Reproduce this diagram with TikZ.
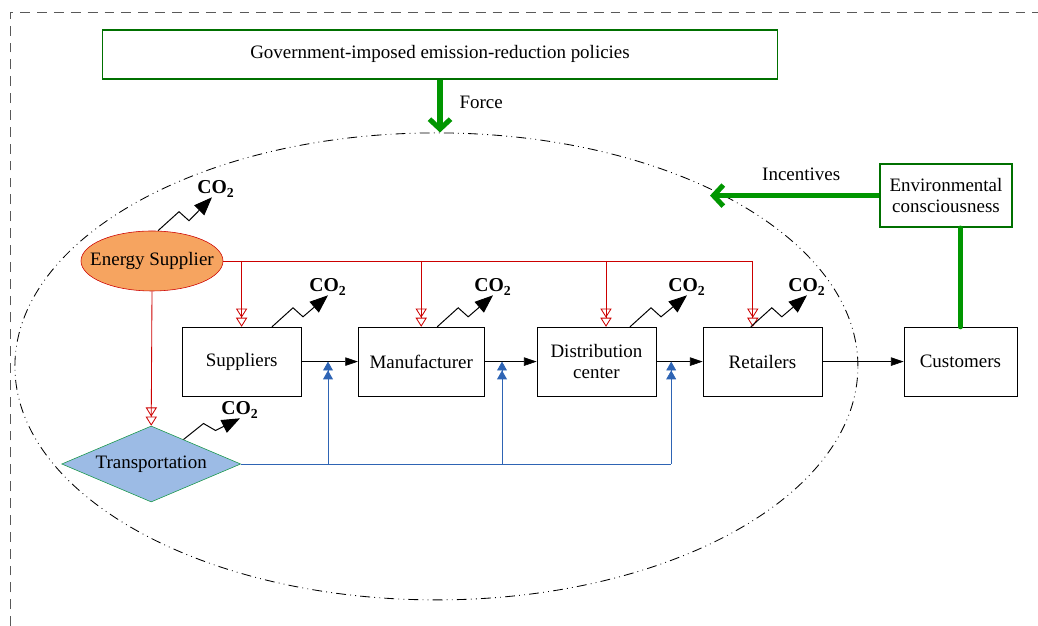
\documentclass[tikz,border=0pt]{standalone}
\usepackage{fontspec}
\setmainfont{Liberation Serif}
\usepackage{xcolor}
\usepackage{tikz}
\usetikzlibrary{calc,shapes.geometric,arrows.meta}
\definecolor{govgreen}{RGB}{0,112,0}
\definecolor{thickgreen}{RGB}{0,150,0}
\definecolor{esfill}{RGB}{246,164,96}
\definecolor{esred}{RGB}{204,0,0}
\definecolor{trfill}{RGB}{156,187,229}
\definecolor{trgreen}{RGB}{20,150,70}
\definecolor{flowblue}{RGB}{46,100,180}
\tikzset{>=stealth,
  box/.style={draw,thin,minimum height=1.725cm,align=center},
  greenbox/.style={draw=govgreen,line width=1.4pt,align=center},
  bigarr/.style={thickgreen,line width=3.6pt,-{Straight Barb[length=7pt,width=15pt]}},
  flow/.style={-{Triangle[length=9pt,width=6pt]}},
  redarr/.style={esred,line width=0.6pt,-{Triangle[open,length=6.5pt,width=8pt]Triangle[open,length=6.5pt,width=8pt]}},
  bluearr/.style={flowblue,line width=0.6pt,-{Triangle[length=6.3pt,width=7pt]Triangle[length=6.3pt,width=7pt]}},
  co2/.style={line width=0.7pt,-{Triangle[length=13pt,width=10pt]}},
  co2lab/.style={font=\fontsize{14}{16}\selectfont\bfseries,inner sep=0pt}}

\begin{document}
\begin{tikzpicture}[font=\fontsize{13.5}{15.5}\selectfont]
      \useasboundingbox (0,0) rectangle (25.95,15.65);
      \draw[gray!70!black,dash pattern=on 7pt off 5pt] (0.25,0)--(0.25,15.35)--(25.95,15.35);
      \node[draw,ellipse,minimum width=21.075cm,minimum height=11.675cm,line width=0.6pt,
            dash pattern=on 7pt off 3pt on 0.6pt off 3pt on 0.6pt off 3pt] at (10.91,6.49) (sc) {};
      \node[greenbox,minimum width=16.875cm,minimum height=1.225cm] at (11.0,14.29) (gov) {Government-imposed emission-reduction policies};
      \node[greenbox,minimum width=3.3cm,minimum height=1.575cm] at (23.65,10.76) (env) {Environmental\\consciousness};
      \node[box,minimum width=2.975cm] at (6.04,6.61) (sup) {Suppliers};
      \node[box,minimum width=3.15cm] at (10.53,6.61) (man) {Manufacturer};
      \node[box,minimum width=2.975cm] at (14.91,6.61) (dc) {Distribution\\center};
      \node[box,minimum width=2.975cm] at (19.06,6.61) (ret) {Retailers};
      \node[box,minimum width=2.825cm] at (24.01,6.61) (cus) {Customers};
      \node[draw=esred,fill=esfill,ellipse,minimum width=3.55cm,minimum height=1.5cm,inner sep=0pt] at (3.8,9.125) (es) {\makebox[0pt]{Energy Supplier}};
      \node[draw=trgreen,fill=trfill,diamond,aspect=2.355,minimum width=4.475cm,minimum height=1.9cm,inner sep=0pt] at (3.78,4.05) (tr) {\makebox[0pt]{Transportation}};
      \coordinate (inc) at (17.75,10.76);
      \coordinate (b1) at (8.2,6.61);
      \coordinate (b2) at (12.55,6.61);
      \coordinate (b3) at (16.78,6.61);
      % policies and incentives
      \draw[bigarr] (gov.south) -- (gov.south |- sc.north);
      \node[] at (12.03,13.08) (force) {Force};
      \draw[bigarr] (env.west) -- (inc);
      \node[] at (20.03,11.3) (incl) {Incentives};
      \draw[thickgreen,line width=3.6pt,line cap=round] (cus.north) -- (cus.north |- env.south);
      % material flow
      \draw[flow] (sup.east) -- (man.west);
      \draw[flow] (man.east) -- (dc.west);
      \draw[flow] (dc.east) -- (ret.west);
      \draw[flow] (ret.east) -- (cus.west);
      % energy
      \draw[esred,line width=0.6pt] (es.east) -- ($(ret.north |- es.east)+(-0.24,0)$);
      \draw[redarr] (sup.north |- es.east) -- (sup.north);
      \draw[redarr] (man.north |- es.east) -- (man.north);
      \draw[redarr] ($(dc.north |- es.east)+(0.24,0)$) -- ($(dc.north)+(0.24,0)$);
      \draw[redarr] ($(ret.north |- es.east)+(-0.24,0)$) -- ($(ret.north)+(-0.24,0)$);
      \draw[redarr] (es.south) -- (tr.north);
      % transportation
      \draw[flowblue,line width=0.6pt] (tr.east) -- (tr.east -| b3);
      \draw[bluearr] (tr.east -| b1) -- (b1);
      \draw[bluearr] (tr.east -| b2) -- (b2);
      \draw[bluearr] (tr.east -| b3) -- (b3);
      % emissions
      \node[co2lab] at (5.4,10.925) (co2es) {CO\textsubscript{2}};
      \node[co2lab] at (8.2,8.475) (co2s) {CO\textsubscript{2}};
      \node[co2lab] at (12.325,8.475) (co2m) {CO\textsubscript{2}};
      \node[co2lab] at (17.175,8.475) (co2d) {CO\textsubscript{2}};
      \node[co2lab] at (20.175,8.475) (co2r) {CO\textsubscript{2}};
      \node[co2lab] at (6.0,5.4) (co2t) {CO\textsubscript{2}};
      \draw[co2] ($(es.north)+(0.15,0)$) -- ++(0.525,0.475) -- ++(0.25,-0.225) -- ($(co2es.south)+(-0.1,0)$);
      \draw[co2] ($(sup.north)+(0.76,0)$) -- ++(0.525,0.475) -- ++(0.25,-0.225) -- (co2s.south);
      \draw[co2] ($(man.north)+(0.4,0)$) -- ++(0.525,0.475) -- ++(0.25,-0.225) -- (co2m.south);
      \draw[co2] ($(dc.north)+(0.84,0)$) -- ++(0.525,0.475) -- ++(0.25,-0.225) -- (co2d.south);
      \draw[co2] ($(ret.north)+(-0.29,0)$) -- ++(0.525,0.475) -- ++(0.25,-0.225) -- (co2r.south);
      \draw[co2] ($(tr.north)!0.36!(tr.east)$) -- ++(0.5,0.4) -- ++(0.3,-0.175) -- (co2t.south);
\end{tikzpicture}
\end{document}
